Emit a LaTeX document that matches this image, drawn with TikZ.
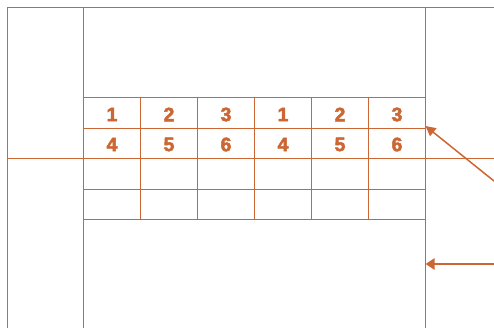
\documentclass[tikz,border=0pt]{standalone}
\usepackage{fontspec}
\setmainfont{Liberation Sans}
\newfontfamily\numfont[BoldFeatures={FakeBold=2.5}]{Liberation Sans}
\usetikzlibrary{arrows.meta}
\definecolor{org}{RGB}{204,102,51}
\begin{document}
\begin{tikzpicture}[x=1pt,y=-1pt,
  grid/.style={draw=org,line width=1pt},
  num/.style={text=org,font=\numfont\fontsize{19.5}{19.5}\selectfont\bfseries,inner sep=0pt},
  thinarrow/.style={draw=org,fill=org,line width=1.5pt,-{Triangle[length=10pt,width=10pt]}},
  thickarrow/.style={draw=org,fill=org,line width=2.8pt,-{Triangle[length=9pt,width=11pt]}}]
\useasboundingbox (0,0) rectangle (494,328);
% frame
\draw[grid] (7.5,328) -- (7.5,7.5) -- (494,7.5);
\draw[grid] (83.5,7.5) -- (83.5,328);
\draw[grid] (425.5,7.5) -- (425.5,328);
\draw[grid] (7.5,158.5) -- (494,158.5);
\foreach \yy in {97.5,128.5,189.5,219.5} \draw[grid] (83.5,\yy) -- (425.5,\yy);
\foreach \xx in {140.5,197.5,254.5,311.5,368.5} \draw[grid] (\xx,97.5) -- (\xx,219.5);
% numbers
\foreach \t [count=\i] in {1,2,3,1,2,3}
  \node[num] (a\i) at ({83.5+57*(\i-0.5)},114.5) {\t};
\foreach \t [count=\i] in {4,5,6,4,5,6}
  \node[num] (b\i) at ({83.5+57*(\i-0.5)},144.5) {\t};
% arrows
\coordinate (s1) at (494,181);
\coordinate (t1) at (425.5,126);
\coordinate (s2) at (494,264);
\coordinate (t2) at (425.5,264);
\draw[thinarrow] (s1) -- (t1);
\draw[thickarrow] (s2) -- (t2);
\end{tikzpicture}
\end{document}
